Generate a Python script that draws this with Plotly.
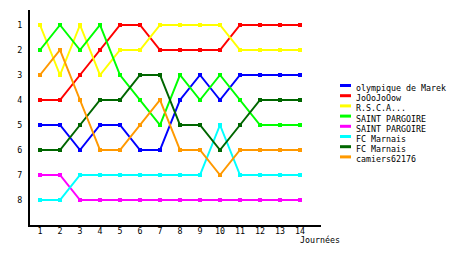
import plotly.graph_objects as go

journees = list(range(1, 15))
teams = ["olympique de Marek", "JoOoJoOow", "R.S.C.A...", "SAINT PARGOIRE",
         "SAINT PARGOIRE", "FC Marnais", "FC Marnais", "camiers62176"]
colors = ["#0000FF", "#FF0000", "#FFFF00", "#00FF00",
          "#FF00FF", "#00FFFF", "#006600", "#FF9900"]

olympique = [5, 5, 6, 5, 5, 6, 6, 4, 3, 4, 3, 3, 3, 3]
joojoow = [4, 4, 3, 2, 1, 1, 2, 2, 2, 2, 1, 1, 1, 1]
rsca = [1, 3, 1, 3, 2, 2, 1, 1, 1, 1, 2, 2, 2, 2]
saint_pargoire_1 = [2, 1, 2, 1, 3, 4, 5, 3, 4, 3, 4, 5, 5, 5]
saint_pargoire_2 = [7, 7, 8, 8, 8, 8, 8, 8, 8, 8, 8, 8, 8, 8]
fc_marnais_1 = [8, 8, 7, 7, 7, 7, 7, 7, 7, 5, 7, 7, 7, 7]
fc_marnais_2 = [6, 6, 5, 4, 4, 3, 3, 5, 5, 6, 5, 4, 4, 4]
camiers = [3, 2, 4, 6, 6, 5, 4, 6, 6, 7, 6, 6, 6, 6]
series = [olympique, joojoow, rsca, saint_pargoire_1,
          saint_pargoire_2, fc_marnais_1, fc_marnais_2, camiers]
rank_ticks = [1, 2, 3, 4, 5, 6, 7, 8]

FONT = "DejaVu Sans Mono"
FS = 8.3
L, T, R, B = 30, 10, 139, 30
W, H = 460, 255
PW, PH = W - L - R, H - T - B

fig = go.Figure()
for name, col, vals in zip(teams, colors, series):
    fig.add_trace(go.Scatter(
        x=journees, y=vals, name=name, mode="lines+markers",
        line=dict(color=col, width=2),
        marker=dict(color=col, size=4, symbol="square"),
        showlegend=False))

def px_x(p):
    return (p - L) / PW

def px_y(p):
    return (H - B - p) / PH

shapes = []
annotations = []
for i, (name, col) in enumerate(zip(teams, colors)):
    yl = 85.5 + 10.2 * i
    shapes.append(dict(type="line", xref="paper", yref="paper",
                       x0=px_x(340), x1=px_x(351), y0=px_y(yl), y1=px_y(yl),
                       line=dict(color=col, width=3)))
    annotations.append(dict(xref="paper", yref="paper", x=px_x(354), y=px_y(yl + 2.5),
                            text=name, showarrow=False, xanchor="left", yanchor="middle",
                            font=dict(family=FONT, size=FS, color="black")))
annotations.append(dict(xref="paper", yref="paper", x=px_x(320), y=px_y(240),
                        text="Journées", showarrow=False, xanchor="center", yanchor="middle",
                        font=dict(family=FONT, size=FS, color="black")))

fig.update_layout(
    width=W, height=H,
    margin=dict(l=L, r=R, t=T, b=B, pad=0),
    paper_bgcolor="white", plot_bgcolor="white",
    font=dict(family=FONT, size=FS, color="black"),
    shapes=shapes, annotations=annotations,
    xaxis=dict(range=[0.5, 15.05], tickvals=journees, showgrid=False, zeroline=False,
               showline=True, linecolor="black", linewidth=2, ticks="",
               tickfont=dict(family=FONT, size=FS), ticklabelstandoff=-3),
    yaxis=dict(range=[9, 0.4], tickvals=rank_ticks, showgrid=False, zeroline=False,
               showline=True, linecolor="black", linewidth=2, ticks="",
               tickfont=dict(family=FONT, size=FS), ticklabelstandoff=4),
)
fig.write_html("out.html")
